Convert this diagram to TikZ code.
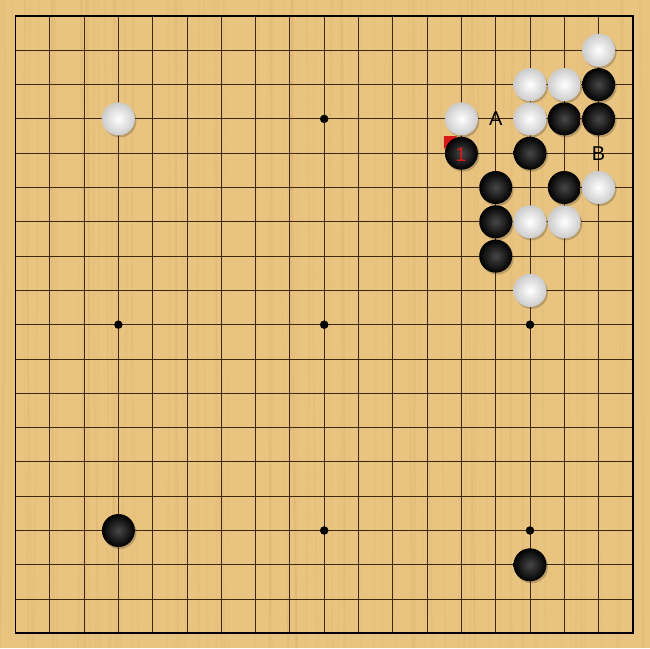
\documentclass[tikz,border=0pt]{standalone}
\usepackage{fontspec}
\setmainfont{Liberation Sans}
\usetikzlibrary{calc}
\definecolor{wood}{RGB}{233,196,128}
\definecolor{grain}{RGB}{200,150,80}
\definecolor{gridc}{RGB}{62,40,14}
\definecolor{markred}{RGB}{215,25,25}
\begin{document}
\begin{tikzpicture}[x=1pt,y=-1pt,
  blackstone/.style={circle,minimum size=33pt,inner sep=0pt,
    shading=radial,inner color=black!72,outer color=black},
  whitestone/.style={circle,minimum size=33pt,inner sep=0pt,
    shading=radial,inner color=white,outer color=black!20},
  shadow/.style={circle,minimum size=33pt,inner sep=0pt,fill=black,opacity=0.2},
  lbl/.style={font=\fontsize{20}{20}\selectfont,inner sep=0pt},
  hoshi/.style={circle,fill=black,minimum size=8.5pt,inner sep=0pt}]
\fill[wood] (0,0) rectangle (650,648);
\useasboundingbox (0,0) rectangle (650,648);
% wood grain
\pgfmathsetseed{7}
\foreach \g in {1,...,90} {
  \pgfmathsetmacro{\gx}{rnd*650}
  \pgfmathsetmacro{\gw}{0.5+rnd*2}
  \draw[grain,opacity=0.10,line width=\gw pt] (\gx,0) .. controls ({\gx+rnd*8-4},300) .. ({\gx+rnd*10-5},648);
}
% grid
\foreach \i in {1,...,17} {
  \draw[gridc,line width=0.9pt] ({15.5+34.3*\i},16) -- ({15.5+34.3*\i},632.9);
  \draw[gridc,line width=0.9pt] (15.5,{16+34.3*\i}) -- (632.9,{16+34.3*\i});
}
\draw[black,line width=1.7pt] (15.5,16) rectangle (632.9,632.9);
% star points
\foreach \c in {3,9,15} \foreach \r in {3,9,15}
  \node[hoshi] (h\c\r) at ({15.5+34.3*\c},{16+34.3*\r}) {};
% last move marker (under the stone)
\coordinate (m) at ({15.5+34.3*13},{16+34.3*4});
\fill[markred] ($(m)+(-17.5,-17)$) -- ++(13,0) -- ++(-13,13) -- cycle;
% stones
\foreach \c/\r [count=\k] in {3/3,17/1,15/2,16/2,13/3,15/3,17/5,15/6,16/6,15/8} {
  \node[shadow] at ({15.5+34.3*\c+1.5},{16+34.3*\r+2}) {};
  \node[whitestone] (w\k) at ({15.5+34.3*\c},{16+34.3*\r}) {};
}
\foreach \c/\r [count=\k] in {17/2,16/3,17/3,13/4,15/4,14/5,16/5,14/6,14/7,3/15,15/16} {
  \node[shadow] at ({15.5+34.3*\c+1.5},{16+34.3*\r+2}) {};
  \node[blackstone] (b\k) at ({15.5+34.3*\c},{16+34.3*\r}) {};
}
\node[lbl,text=markred] (one) at ($(b4)+(-0.5,1.5)$) {1};
% letters
\node[lbl,text=black] (A) at ({15.5+34.3*14},{16+34.3*3}) {A};
\node[lbl,text=black] (B) at ({15.5+34.3*17},{16+34.3*4}) {B};
\end{tikzpicture}
\end{document}
